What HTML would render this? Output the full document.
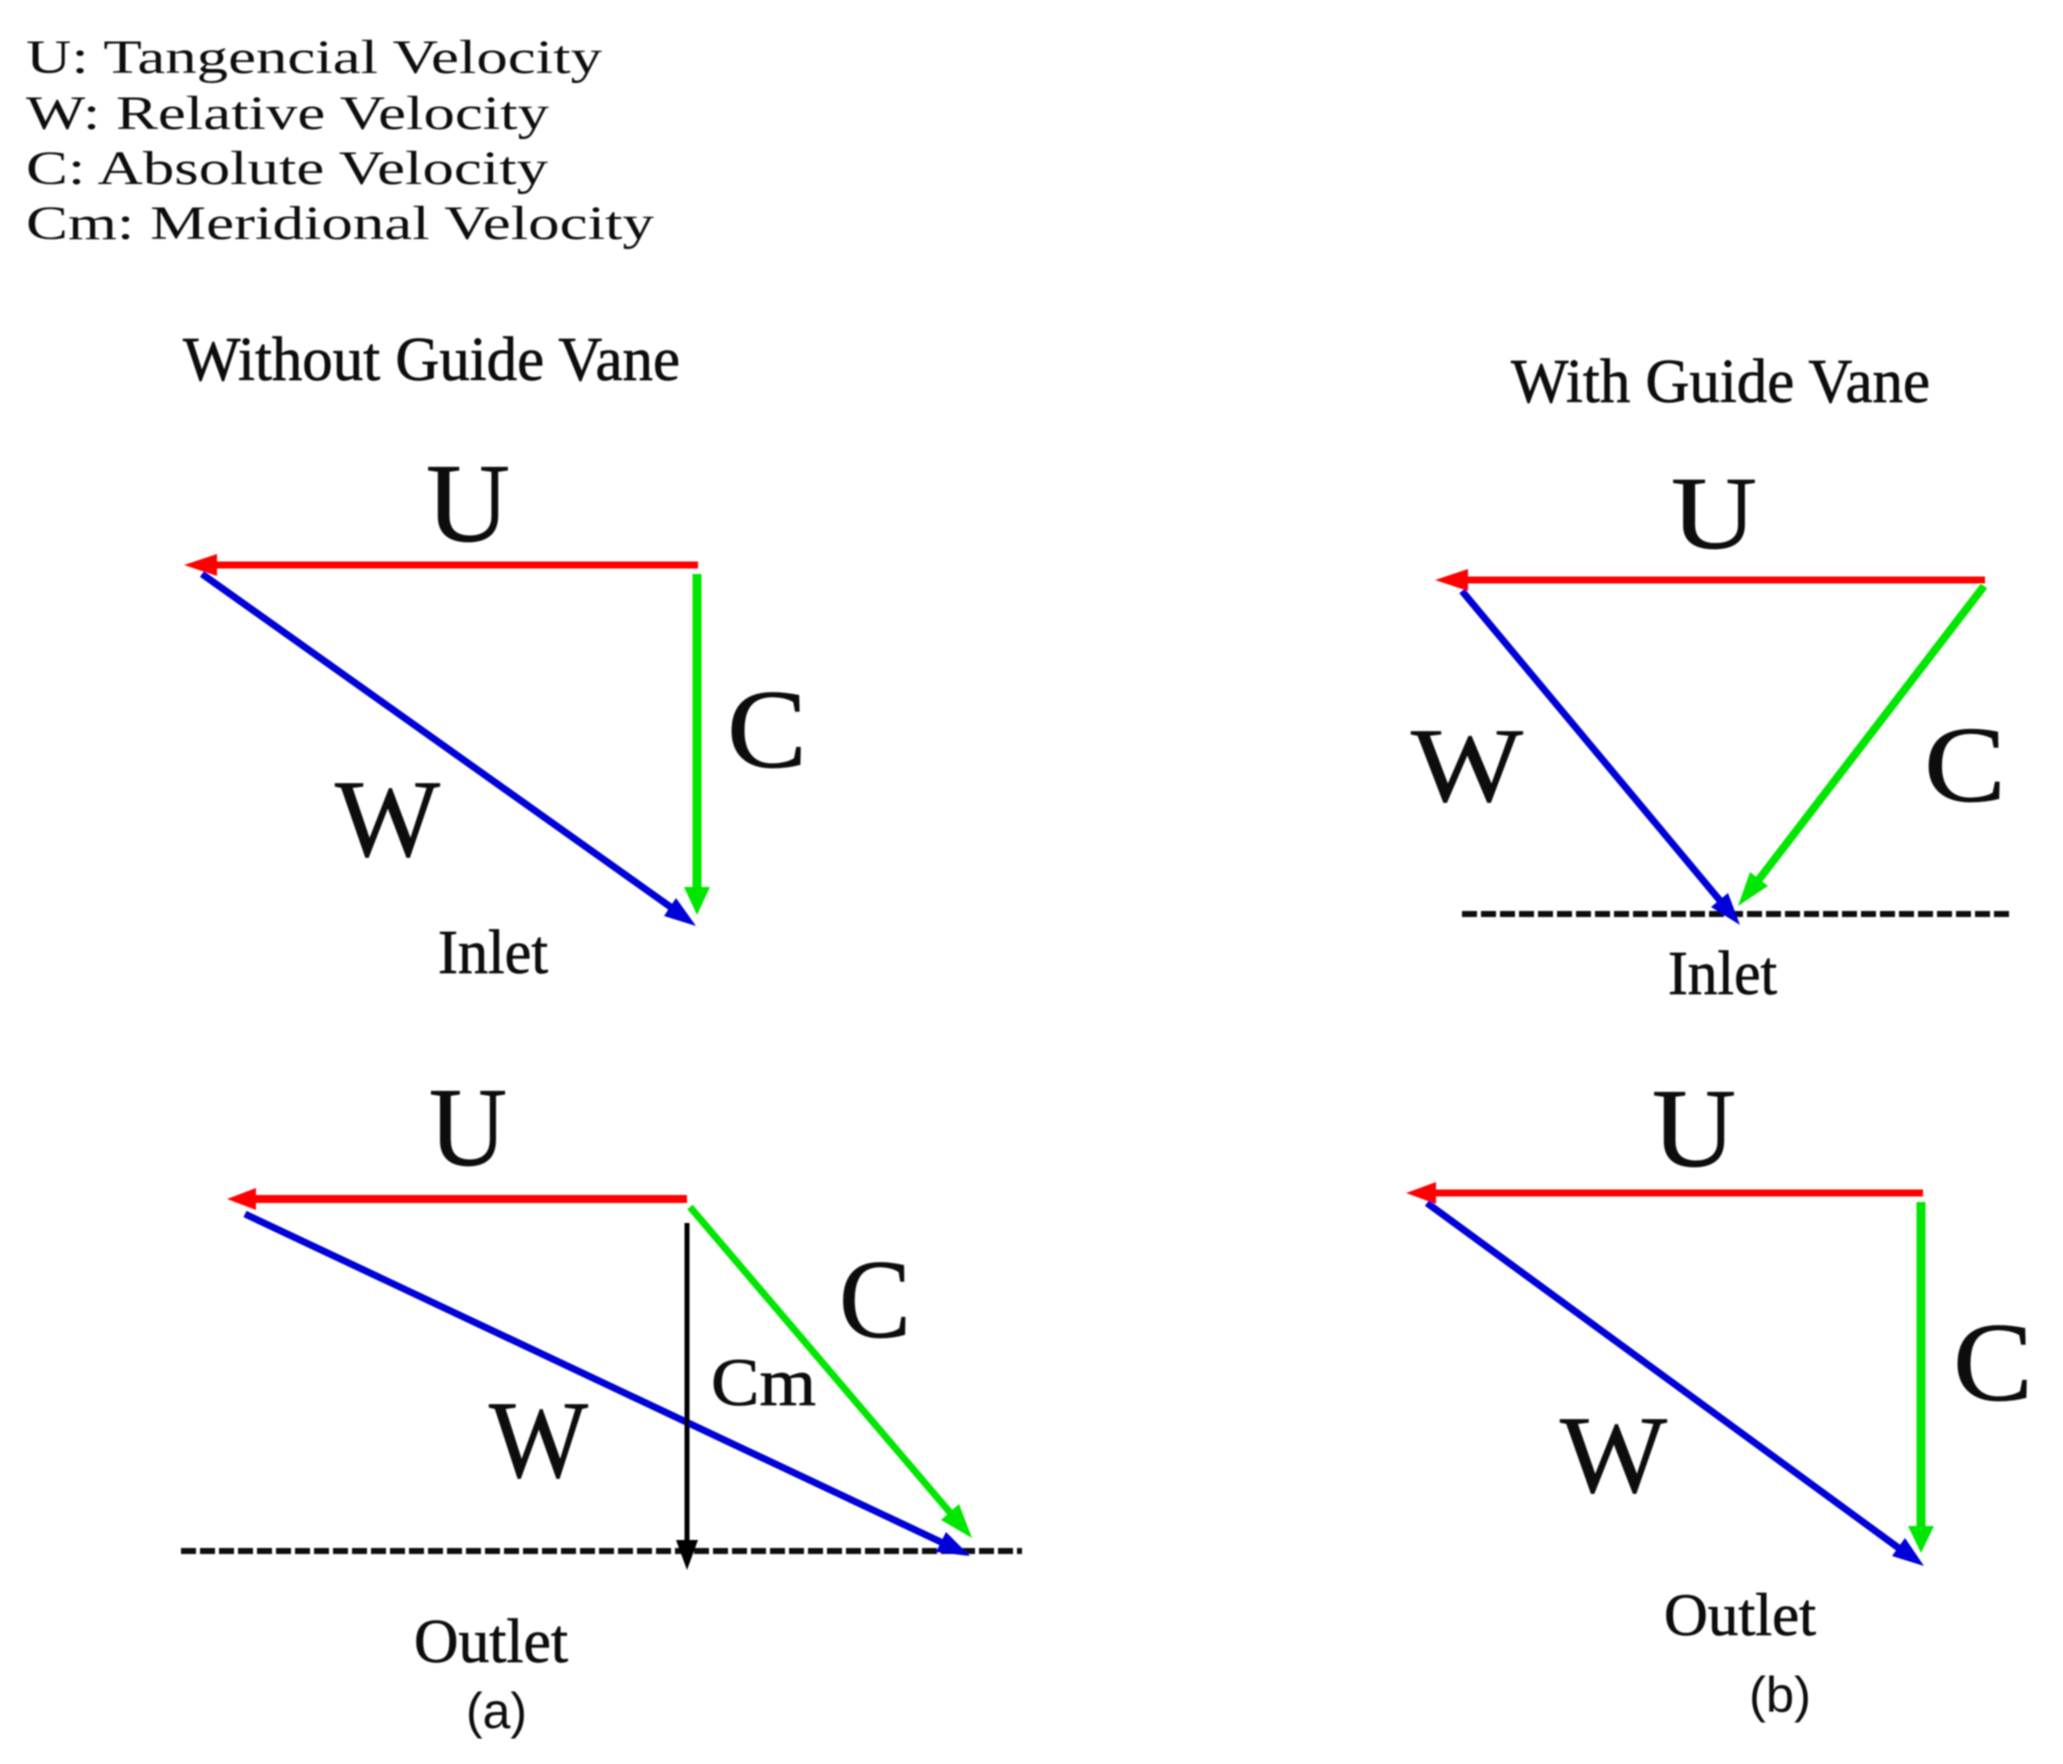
<!DOCTYPE html>
<html>
<head>
<meta charset="utf-8">
<style>
html,body{margin:0;padding:0;background:#fff;}
svg{display:block;}
text{font-family:"Liberation Serif",serif;fill:#111;}
.s{font-family:"Liberation Sans",sans-serif;}
.h{stroke:#111;stroke-width:0.7px;}
</style>
</head>
<body>
<svg width="2063" height="1764" viewBox="0 0 2063 1764" xmlns="http://www.w3.org/2000/svg">
<defs><filter id="b" x="-5%" y="-5%" width="110%" height="110%"><feGaussianBlur stdDeviation="0.9"/></filter></defs>
<rect width="2063" height="1764" fill="#fff"/>
<g filter="url(#b)">
<!-- Legend -->
<g font-size="48" fill="#222">
<text x="26" y="73" textLength="576" lengthAdjust="spacingAndGlyphs">U: Tangencial Velocity</text>
<text x="26" y="129" textLength="523" lengthAdjust="spacingAndGlyphs">W: Relative Velocity</text>
<text x="26" y="184" textLength="522" lengthAdjust="spacingAndGlyphs">C: Absolute Velocity</text>
<text x="26" y="239" textLength="628" lengthAdjust="spacingAndGlyphs">Cm: Meridional Velocity</text>
</g>
<!-- Titles -->
<text class="h" x="183" y="380" font-size="62" textLength="497" lengthAdjust="spacingAndGlyphs">Without Guide Vane</text>
<text class="h" x="1511" y="402" font-size="62" textLength="419" lengthAdjust="spacingAndGlyphs">With Guide Vane</text>

<!-- (a) inlet -->
<text class="h" x="426" y="541" font-size="112" textLength="84" lengthAdjust="spacingAndGlyphs">U</text>
<text class="h" x="727" y="767" font-size="112" textLength="80" lengthAdjust="spacingAndGlyphs">C</text>
<text class="h" x="335" y="856" font-size="110" textLength="105" lengthAdjust="spacingAndGlyphs">W</text>
<text class="h" x="438" y="973" font-size="62" textLength="110" lengthAdjust="spacingAndGlyphs">Inlet</text>
<line x1="698" y1="565" x2="212" y2="565" stroke="#f00" stroke-width="7"/>
<polygon points="184,565 217,554 217,576" fill="#f00"/>
<line x1="202" y1="574" x2="672" y2="908" stroke="#0000d8" stroke-width="7"/>
<polygon points="696,926 664,916 676,898" fill="#0000d8"/>
<line x1="697" y1="574" x2="697" y2="890" stroke="#00e600" stroke-width="9"/>
<polygon points="697,915 684,887 710,887" fill="#00e600"/>

<!-- (b) inlet -->
<text class="h" x="1671" y="548" font-size="104" textLength="86" lengthAdjust="spacingAndGlyphs">U</text>
<text class="h" x="1924" y="801" font-size="108" textLength="82" lengthAdjust="spacingAndGlyphs">C</text>
<text class="h" x="1411" y="801" font-size="106" textLength="112" lengthAdjust="spacingAndGlyphs">W</text>
<text class="h" x="1668" y="994" font-size="62" textLength="109" lengthAdjust="spacingAndGlyphs">Inlet</text>
<line x1="1462" y1="914" x2="2010" y2="914" stroke="#111" stroke-width="6" stroke-dasharray="15 4"/>
<line x1="1985" y1="580" x2="1463" y2="580" stroke="#f00" stroke-width="7"/>
<polygon points="1435,580 1468,569 1468,591" fill="#f00"/>
<line x1="1462" y1="591" x2="1722" y2="903" stroke="#0000d8" stroke-width="7"/>
<polygon points="1740,925 1711,907 1728,893" fill="#0000d8"/>
<line x1="1984" y1="586" x2="1757" y2="882" stroke="#00e600" stroke-width="8"/>
<polygon points="1738,906 1750,872 1768,886" fill="#00e600"/>

<!-- (a) outlet -->
<text class="h" x="429" y="1165" font-size="112" textLength="78" lengthAdjust="spacingAndGlyphs">U</text>
<text class="h" x="839" y="1337" font-size="112" textLength="72" lengthAdjust="spacingAndGlyphs">C</text>
<text class="h" x="711" y="1405" font-size="68" textLength="105" lengthAdjust="spacingAndGlyphs">Cm</text>
<text class="h" x="489" y="1477" font-size="110" textLength="99" lengthAdjust="spacingAndGlyphs">W</text>
<text class="h" x="414" y="1662" font-size="62" textLength="154" lengthAdjust="spacingAndGlyphs">Outlet</text>
<text class="s" x="466" y="1728" font-size="50" textLength="61" lengthAdjust="spacingAndGlyphs">(a)</text>
<line x1="181" y1="1551" x2="1022" y2="1551" stroke="#111" stroke-width="6" stroke-dasharray="15 4"/>
<line x1="687" y1="1199" x2="254" y2="1199" stroke="#f00" stroke-width="8"/>
<polygon points="227,1199 256,1188 256,1210" fill="#f00"/>
<line x1="245" y1="1214" x2="943" y2="1543" stroke="#0000d8" stroke-width="7"/>
<polygon points="970,1556 936,1552 946,1532" fill="#0000d8"/>
<line x1="690" y1="1207" x2="953" y2="1516" stroke="#00e600" stroke-width="7"/>
<polygon points="972,1538 941,1520 959,1504" fill="#00e600"/>
<line x1="687" y1="1223" x2="687" y2="1545" stroke="#000" stroke-width="5"/>
<polygon points="687,1570 676,1540 698,1540" fill="#000"/>

<!-- (b) outlet -->
<text class="h" x="1652" y="1166" font-size="112" textLength="84" lengthAdjust="spacingAndGlyphs">U</text>
<text class="h" x="1953" y="1400" font-size="112" textLength="80" lengthAdjust="spacingAndGlyphs">C</text>
<text class="h" x="1560" y="1492" font-size="110" textLength="107" lengthAdjust="spacingAndGlyphs">W</text>
<text class="h" x="1664" y="1635" font-size="60" textLength="152" lengthAdjust="spacingAndGlyphs">Outlet</text>
<text class="s" x="1749" y="1712" font-size="50" textLength="62" lengthAdjust="spacingAndGlyphs">(b)</text>
<line x1="1923" y1="1193" x2="1434" y2="1193" stroke="#f00" stroke-width="7"/>
<polygon points="1406,1193 1436,1182 1436,1204" fill="#f00"/>
<line x1="1427" y1="1203" x2="1900" y2="1549" stroke="#0000d8" stroke-width="7"/>
<polygon points="1924,1566 1892,1556 1905,1538" fill="#0000d8"/>
<line x1="1921" y1="1202" x2="1921" y2="1530" stroke="#00e600" stroke-width="9"/>
<polygon points="1921,1553 1908,1526 1934,1526" fill="#00e600"/>
</g>
</svg>
</body>
</html>
